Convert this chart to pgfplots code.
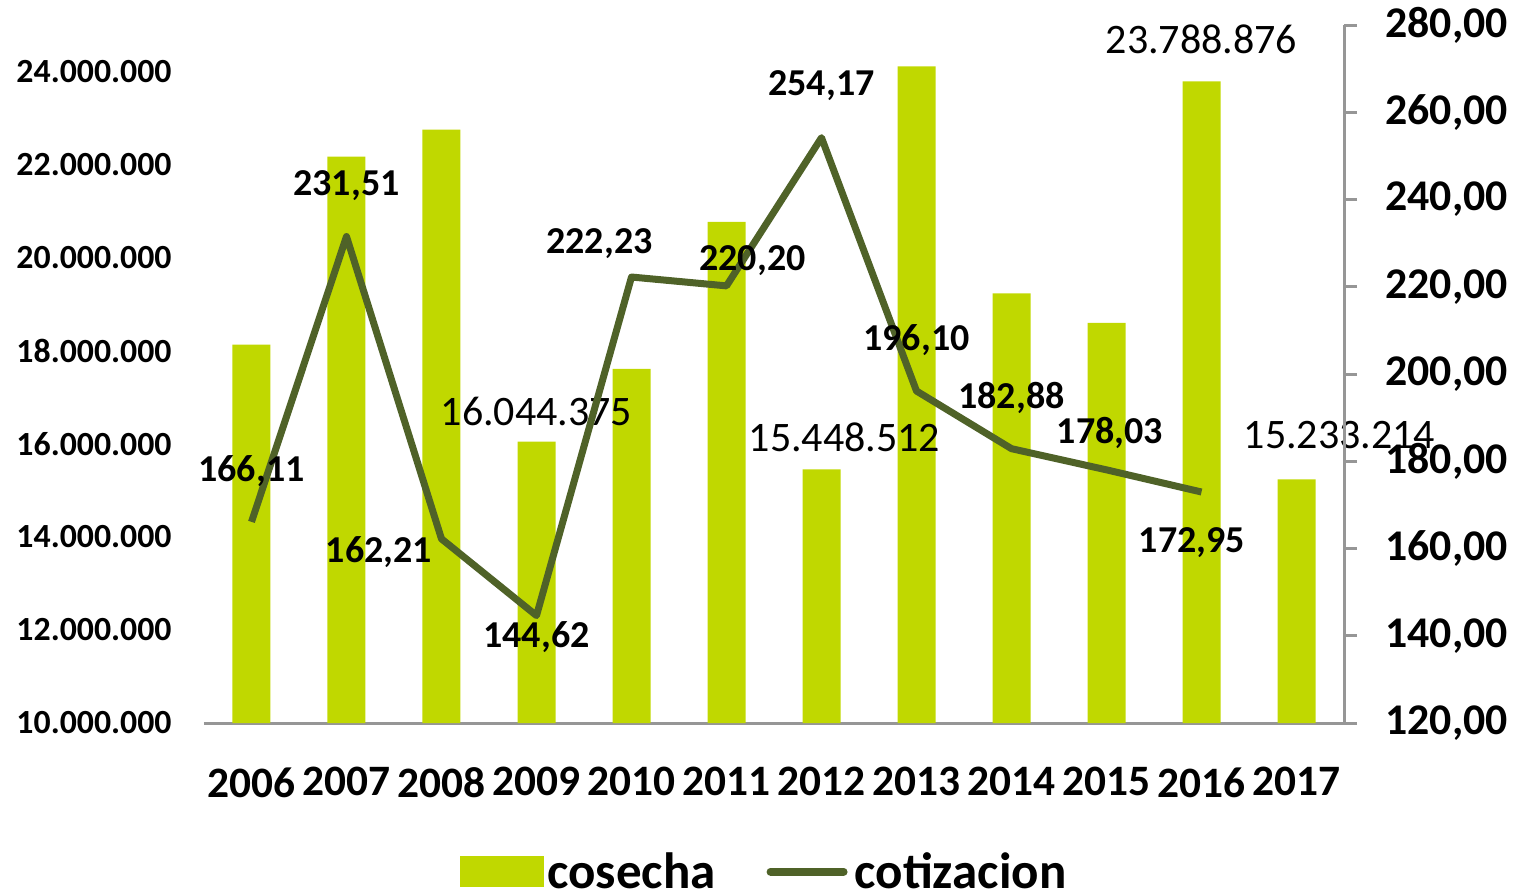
\documentclass[border=0pt]{standalone}
\usepackage{pgfplots}
\pgfplotsset{compat=1.18}
\usepackage{pgfplotstable}
\usepackage{fontspec}
\setmainfont{Carlito}
\definecolor{barcol}{RGB}{192,216,0}
\definecolor{linecol}{RGB}{79,98,40}
\definecolor{axgrey}{RGB}{150,150,150}

\pgfplotstableread{
x y lab dx dy
0 18130000 {} 0 0
1 22170000 {} 0 0
2 22750000 {} 0 0
3 16044375 16.044.375 0 15
4 17610000 {} 0 0
5 20770000 {} 0 0
6 15448512 15.448.512 11.5 16
7 24110000 {} 0 0
8 19230000 {} 0 0
9 18600000 {} 0 0
10 23788876 23.788.876 0 21
11 15233214 15.233.214 21.5 22
}\cosecha

\pgfplotstableread{
x y lab dx dy
0 166.11 166,11 0 25.5
1 231.51 231,51 0 25.5
2 162.21 162,21 -31.25 -6.5
3 144.62 144,62 0 -10.7
4 222.23 222,23 -16 16.5
5 220.20 220,20 13 12.5
6 254.17 254,17 0 26
7 196.10 196,10 0 25.5
8 182.88 182,88 0 25.5
9 178.03 178,03 1.75 18.5
10 172.95 172,95 -4.75 -25.5
}\cotizacion

\begin{document}
\begin{tikzpicture}
\begin{axis}[
  scale only axis, width=570pt, height=349pt,
  xmin=-0.5, xmax=11.5,
  ymin=10000000, ymax=25000000,
  scaled y ticks=false,
  axis x line*=bottom, axis y line*=left,
  x axis line style={draw=axgrey, line width=1.5pt},
  y axis line style={draw=none},
  xtick={0,...,11},
  xticklabels={2006,2007,2008,2009,2010,2011,2012,2013,2014,2015,2016,2017},
  ytick={10000000,12000000,14000000,16000000,18000000,20000000,22000000,24000000},
  yticklabels={10.000.000,12.000.000,14.000.000,16.000.000,18.000.000,20.000.000,22.000.000,24.000.000},
  major tick length=0pt,
  tick style={draw=none},
  /pgf/number format/assume math mode=true,
  xticklabel style={font=\bfseries\fontsize{21.7pt}{21.7pt}\selectfont, anchor=north, inner sep=0pt, yshift=-22pt},
  yticklabel style={font=\bfseries\fontsize{16.9pt}{16.9pt}\selectfont, anchor=east, inner sep=0pt, xshift=-16pt},
  clip=false,
]
\addplot[ybar, bar width=19pt, fill=barcol, draw=none,
  point meta=explicit symbolic,
  nodes near coords,
  visualization depends on={\thisrow{dx} \as \labdx},
  visualization depends on={\thisrow{dy} \as \labdy},
  every node near coord/.append style={anchor=center, inner sep=0pt, xshift=\labdx pt, yshift=\labdy pt, font=\fontsize{21pt}{21pt}\selectfont, text=black},
] table[x=x, y=y, meta=lab] {\cosecha};
\end{axis}
\begin{axis}[
  scale only axis, width=570pt, height=349pt,
  xmin=-0.5, xmax=11.5,
  ymin=120, ymax=280,
  axis x line=none, axis y line*=right,
  y axis line style={draw=axgrey, line width=1.5pt},
  ytick={120,140,...,280},
  yticklabels={{120,00},{140,00},{160,00},{180,00},{200,00},{220,00},{240,00},{260,00},{280,00}},
  tick align=outside, major tick length=6.5pt,
  ytick style={draw=axgrey, line width=1.5pt},
  /pgf/number format/assume math mode=true,
  yticklabel style={font=\bfseries\fontsize{21.9pt}{21.9pt}\selectfont, anchor=west, inner sep=0pt, xshift=14pt},
  clip=false,
  legend style={at={(0.492,-0.213)}, anchor=center, draw=none, fill=none,
    legend columns=2, font=\bfseries\fontsize{25.5pt}{25.5pt}\selectfont,
    nodes={inner sep=1.5pt},
    /tikz/every even column/.append style={column sep=24pt}},
]
\addlegendimage{legend image code/.code={\fill[barcol] (0pt,-7.5pt) rectangle (41.5pt,7.5pt);}}
\addlegendentry{cosecha}
\addlegendimage{legend image code/.code={\draw[linecol, line width=4pt, line cap=round] (1.5pt,0pt) -- (38pt,0pt);}}
\addlegendentry{\hspace{2pt}cotizacion}
\addplot[forget plot, linecol, line width=3.5pt, line join=round, mark=none,
  point meta=explicit symbolic,
  nodes near coords,
  visualization depends on={\thisrow{dx} \as \labdx},
  visualization depends on={\thisrow{dy} \as \labdy},
  every node near coord/.append style={anchor=center, inner sep=0pt, xshift=\labdx pt, yshift=\labdy pt, font=\bfseries\fontsize{19pt}{19pt}\selectfont, text=black},
] table[x=x, y=y, meta=lab] {\cotizacion};
\end{axis}
\pgfresetboundingbox
\path (-102pt,-86pt) rectangle (658pt,361.5pt);
\end{tikzpicture}
\end{document}
